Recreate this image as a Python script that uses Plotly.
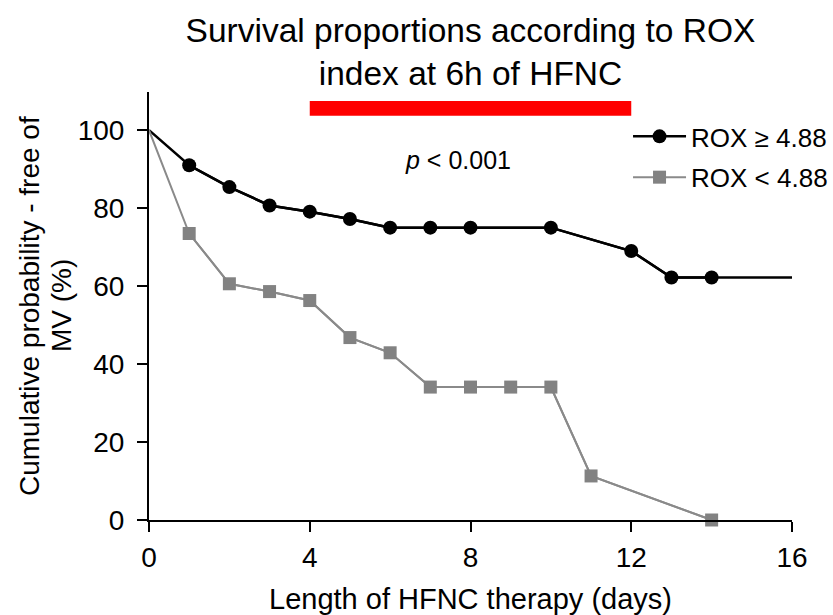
import plotly.graph_objects as go

# Data
days_hi = [0, 1, 2, 3, 4, 5, 6, 7, 8, 10, 12, 13, 14, 16]
surv_hi = [100, 91.0, 85.4, 80.7, 79.1, 77.2, 75.0, 75.0, 75.0, 75.0, 69.0, 62.2, 62.2, 62.2]
days_lo = [0, 1, 2, 3, 4, 5, 6, 7, 8, 9, 10, 11, 14]
surv_lo = [100, 73.5, 60.6, 58.6, 56.3, 46.8, 42.9, 34.1, 34.1, 34.1, 34.1, 11.3, 0]
x_ticks = [0, 4, 8, 12, 16]
y_ticks = [0, 20, 40, 60, 80, 100]
bar_span = [4, 12]
bar_level = [103.7, 107.5]
p_label = "<i>p</i> < 0.001"
y_title_lines = ["Cumulative probability - free of", "MV (%)"]

FONT = "Liberation Sans, Arial, sans-serif"
fig = go.Figure()

# full curves (lines only)
fig.add_trace(go.Scatter(x=days_hi, y=surv_hi, mode="lines",
                         line=dict(color="black", width=2.5), showlegend=False,
                         hoverinfo="skip", cliponaxis=False))
fig.add_trace(go.Scatter(x=days_lo, y=surv_lo, mode="lines",
                         line=dict(color="#8a8a8a", width=2), showlegend=False,
                         hoverinfo="skip", cliponaxis=False))
# event points with markers (legend entries)
fig.add_trace(go.Scatter(x=days_hi[1:-1], y=surv_hi[1:-1], mode="lines+markers",
                         name="ROX ≥ 4.88", legendgroup="a",
                         line=dict(color="black", width=2.5),
                         marker=dict(symbol="circle", size=14, color="black"),
                         cliponaxis=False))
fig.add_trace(go.Scatter(x=days_lo[1:], y=surv_lo[1:], mode="lines+markers",
                         name="ROX < 4.88", legendgroup="b",
                         line=dict(color="#8a8a8a", width=2),
                         marker=dict(symbol="square", size=13, color="#828282"),
                         cliponaxis=False))

fig.add_shape(type="rect", x0=bar_span[0], x1=bar_span[1], y0=bar_level[0], y1=bar_level[1],
              xref="x", yref="y", fillcolor="#ff0000", line=dict(width=0), layer="above")

fig.add_annotation(x=7.7, y=92.3, xref="x", yref="y", text=p_label, showarrow=False,
                   font=dict(family=FONT, size=25, color="black"))

# y-axis title as two rotated annotation lines (tight leading as in the original)
for px_center, line_text in zip([29, 61], y_title_lines):
    fig.add_annotation(x=(px_center - 149) / 643, y=0.5, xref="paper", yref="paper",
                       text=line_text, textangle=-90, showarrow=False,
                       xanchor="center", yanchor="middle",
                       font=dict(family=FONT, size=28, color="black"))

fig.update_layout(
    width=833, height=615,
    margin=dict(l=149, r=41, t=92, b=95, autoexpand=False),
    paper_bgcolor="white", plot_bgcolor="white",
    font=dict(family=FONT, color="black"),
    title=dict(text="Survival proportions according to ROX<br>index at 6h of HFNC",
               x=470.5 / 833, xanchor="center",
               y=1 - 41.5 / 615, yanchor="middle", yref="container",
               font=dict(family=FONT, size=33.5, color="black")),
    legend=dict(x=0.745, y=0.951, xanchor="left", yanchor="top",
                font=dict(family=FONT, size=26, color="black"),
                bgcolor="rgba(0,0,0,0)", tracegroupgap=4, itemwidth=53),
    showlegend=True,
)

fig.update_xaxes(range=[0, 16], tickvals=x_ticks, ticktext=[str(v) for v in x_ticks],
                 showline=True, linecolor="black", linewidth=2,
                 ticks="outside", ticklen=10, tickwidth=2, tickcolor="black",
                 ticklabelstandoff=1,
                 showgrid=False, zeroline=False,
                 tickfont=dict(family=FONT, size=28, color="black"),
                 title=dict(text="Length of HFNC therapy (days)", standoff=17,
                            font=dict(family=FONT, size=29, color="black")))
fig.update_yaxes(range=[0, 109.8], tickvals=y_ticks, ticktext=[str(v) for v in y_ticks],
                 showline=True, linecolor="black", linewidth=2,
                 ticks="outside", ticklen=10, tickwidth=2, tickcolor="black",
                 ticklabelstandoff=7,
                 showgrid=False, zeroline=False,
                 tickfont=dict(family=FONT, size=28, color="black"))

fig.write_html("out.html", config={"displayModeBar": False},
               post_script="document.body.style.margin='0';")
